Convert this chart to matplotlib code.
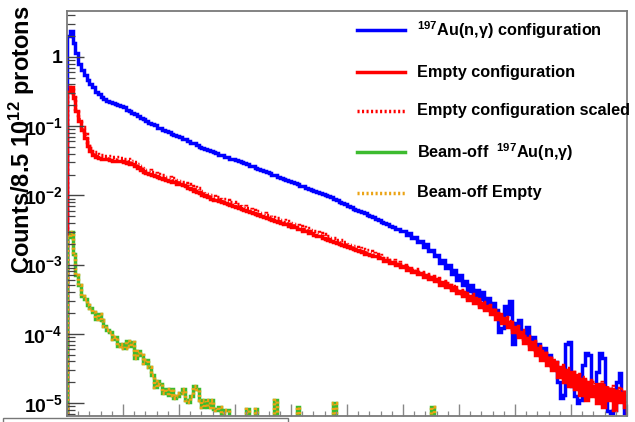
import numpy as np
import matplotlib
matplotlib.use("Agg")
import matplotlib.pyplot as plt
from matplotlib.ticker import LogLocator, NullFormatter, FuncFormatter, MultipleLocator
from matplotlib.lines import Line2D
from matplotlib.patches import Rectangle

plt.rcParams['font.family'] = ['Liberation Sans', 'DejaVu Sans']
plt.rcParams['font.weight'] = 'bold'
plt.rcParams['mathtext.fontset'] = 'custom'
plt.rcParams['mathtext.rm'] = 'Liberation Sans:bold'
plt.rcParams['mathtext.it'] = 'Liberation Sans:bold'
plt.rcParams['mathtext.bf'] = 'Liberation Sans:bold'
plt.rcParams['mathtext.default'] = 'rm'

# ---------------- data (log10 of counts per bin; None = empty bin) ----------------
x_min, x_max, n_bins = 0.0, 10.0, 200

au_log10 = [
    0.30, 0.38, 0.20, 0.05, -0.10, -0.19, -0.26, -0.33, -0.39, -0.44,
    -0.50, -0.54, -0.58, -0.61, -0.63, -0.65, -0.67, -0.68, -0.70, -0.71,
    -0.73, -0.76, -0.78, -0.81, -0.83, -0.86, -0.88, -0.90, -0.92, -0.95,
    -0.97, -0.99, -1.02, -1.03, -1.05, -1.07, -1.09, -1.11, -1.13, -1.14,
    -1.16, -1.18, -1.19, -1.22, -1.24, -1.25, -1.27, -1.30, -1.31, -1.33,
    -1.34, -1.36, -1.37, -1.39, -1.41, -1.42, -1.44, -1.45, -1.47, -1.48,
    -1.49, -1.51, -1.52, -1.53, -1.55, -1.57, -1.58, -1.60, -1.62, -1.63,
    -1.65, -1.66, -1.68, -1.70, -1.71, -1.73, -1.75, -1.76, -1.78, -1.79,
    -1.81, -1.82, -1.84, -1.86, -1.87, -1.89, -1.91, -1.92, -1.93, -1.95,
    -1.96, -1.98, -2.00, -2.01, -2.03, -2.05, -2.07, -2.10, -2.11, -2.13,
    -2.15, -2.17, -2.19, -2.21, -2.23, -2.24, -2.26, -2.28, -2.30, -2.31,
    -2.34, -2.36, -2.38, -2.40, -2.42, -2.44, -2.46, -2.48, -2.49, -2.51,
    -2.52, -2.57, -2.55, -2.62, -2.60, -2.67, -2.66, -2.74, -2.70, -2.80,
    -2.79, -2.88, -2.86, -2.97, -2.93, -3.05, -3.00, -3.13, -3.08, -3.22,
    -3.15, -3.30, -3.24, -3.38, -3.30, -3.45, -3.36, -3.50, -3.40, -3.55,
    -3.48, -3.62, -3.55, -3.66, -3.98, -3.92, -3.60, -3.72, -3.52, -4.15,
    -3.85, -3.80, -3.98, -4.02, -3.90, -4.12, -4.05, -4.20, -4.15, -4.30,
    -4.20, -4.35, -4.30, -4.45, -4.40, -4.70, -4.92, -4.88, -4.15, -4.12,
    -4.75, -4.90, -5.00, -4.95, -4.45, -4.28, -4.30, -4.85, -4.80, -4.55,
    -4.28, -4.35, -4.95, -5.12, -5.15, -5.10, -4.70, -4.57, -4.90, -5.15]

empty_log10 = [
    -0.50, -0.44, -0.60, -0.78, -0.93, -1.06, -1.17, -1.28, -1.36, -1.42,
    -1.45, -1.46, -1.47, -1.48, -1.48, -1.49, -1.50, -1.50, -1.51, -1.51,
    -1.52, -1.53, -1.54, -1.55, -1.57, -1.60, -1.63, -1.66, -1.68, -1.69,
    -1.71, -1.72, -1.74, -1.75, -1.76, -1.78, -1.79, -1.80, -1.81, -1.83,
    -1.84, -1.85, -1.87, -1.89, -1.91, -1.93, -1.95, -1.97, -1.99, -2.01,
    -2.03, -2.05, -2.06, -2.07, -2.08, -2.10, -2.11, -2.12, -2.14, -2.15,
    -2.17, -2.18, -2.20, -2.21, -2.23, -2.24, -2.26, -2.27, -2.29, -2.30,
    -2.31, -2.33, -2.34, -2.36, -2.37, -2.38, -2.40, -2.41, -2.42, -2.44,
    -2.45, -2.46, -2.48, -2.49, -2.51, -2.52, -2.54, -2.55, -2.57, -2.58,
    -2.59, -2.61, -2.63, -2.64, -2.66, -2.67, -2.69, -2.70, -2.72, -2.73,
    -2.75, -2.76, -2.78, -2.79, -2.81, -2.82, -2.84, -2.85, -2.86, -2.88,
    -2.88, -2.91, -2.91, -2.95, -2.93, -2.97, -2.96, -3.01, -2.99, -3.03,
    -3.02, -3.08, -3.05, -3.11, -3.09, -3.14, -3.12, -3.18, -3.15, -3.21,
    -3.18, -3.24, -3.21, -3.29, -3.25, -3.33, -3.29, -3.37, -3.33, -3.41,
    -3.38, -3.46, -3.41, -3.51, -3.45, -3.56, -3.50, -3.61, -3.56, -3.66,
    -3.60, -3.71, -3.65, -3.78, -3.72, -3.84, -3.77, -3.90, -3.83, -3.97,
    -3.90, -4.05, -3.98, -4.13, -4.06, -4.22, -4.12, -4.30, -4.20, -4.38,
    -4.28, -4.45, -4.35, -4.52, -4.40, -4.62, -4.48, -4.70, -4.52, -4.75,
    -4.55, -4.80, -4.60, -4.88, -4.65, -4.95, -4.70, -4.90, -4.75, -5.00,
    -4.72, -5.05, -4.78, -4.95, -4.80, -5.10, -4.82, -4.98, -4.85, -5.05]

empty_scaled_log10 = [
    -0.49, -0.43, -0.58, -0.75, -0.89, -1.01, -1.12, -1.23, -1.31, -1.37,
    -1.40, -1.41, -1.42, -1.43, -1.43, -1.44, -1.45, -1.45, -1.46, -1.46,
    -1.47, -1.48, -1.49, -1.50, -1.52, -1.55, -1.58, -1.61, -1.63, -1.64,
    -1.66, -1.67, -1.69, -1.70, -1.71, -1.73, -1.74, -1.75, -1.76, -1.78,
    -1.79, -1.80, -1.82, -1.84, -1.86, -1.88, -1.90, -1.92, -1.94, -1.96,
    -1.98, -2.00, -2.01, -2.02, -2.03, -2.05, -2.06, -2.07, -2.09, -2.10,
    -2.12, -2.13, -2.15, -2.16, -2.18, -2.19, -2.21, -2.22, -2.24, -2.25,
    -2.26, -2.28, -2.29, -2.31, -2.32, -2.33, -2.35, -2.36, -2.37, -2.39,
    -2.40, -2.41, -2.43, -2.44, -2.46, -2.47, -2.49, -2.50, -2.52, -2.53,
    -2.54, -2.56, -2.58, -2.59, -2.61, -2.62, -2.64, -2.65, -2.67, -2.68,
    -2.70, -2.71, -2.73, -2.74, -2.76, -2.77, -2.79, -2.80, -2.81, -2.83,
    -2.85, -2.86, -2.88, -2.90, -2.91, -2.93, -2.94, -2.97, -2.96, -3.00,
    -3.00, -3.04, -3.03, -3.08, -3.07, -3.11, -3.10, -3.15, -3.13, -3.18,
    -3.16, -3.21, -3.19, -3.26, -3.23, -3.30, -3.27, -3.34, -3.31, -3.38,
    -3.36, -3.43, -3.39, -3.48, -3.43, -3.53, -3.48, -3.58, -3.54, -3.63,
    -3.59, -3.68, -3.63, -3.74, -3.70, -3.80, -3.75, -3.86, -3.81, -3.93,
    -3.88, -4.00, -3.95, -4.08, -4.03, -4.16, -4.10, -4.24, -4.17, -4.32,
    -4.25, -4.38, -4.32, -4.46, -4.38, -4.55, -4.45, -4.62, -4.50, -4.68,
    -4.55, -4.72, -4.58, -4.80, -4.62, -4.85, -4.66, -4.82, -4.70, -4.90,
    -4.70, -4.95, -4.74, -4.88, -4.76, -4.98, -4.78, -4.90, -4.80, -4.95]

N = None
beamoff_au_log10 = [
    -2.60, -2.53, -2.85, -3.15, -3.30, -3.45, -3.50, -3.58, -3.62, -3.68,
    -3.78, -3.72, -3.80, -3.88, -3.95, -3.98, -4.08, -4.05, -4.18, -4.15,
    -4.20, -4.10, -4.18, -4.12, -4.35, -4.25, -4.30, -4.42, -4.38, -4.48,
    -4.60, -4.77, -4.68, -4.72, -4.85, -4.80, -4.88, -4.80, -4.92, -4.90,
    -4.85, -4.80, -4.95, -4.98, -4.90, -4.75, -4.80, -4.95, -5.05, -4.95,
    -5.05, -4.95, -5.08, -5.10, -5.05, N, -5.10, -5.10, N, N,
    N, N, N, N, -5.08, N, N, -5.08, N, N,
    N, N, N, N, -4.95, N, N, N, N, N,
    N, N, -5.05, N, N, N, N, N, N, N,
    N, N, N, N, N, -5.00, N, N, N, N,
    N, N, N, N, N, N, N, N, N, N,
    N, N, N, N, N, N, N, N, N, N,
    N, N, N, N, N, N, N, N, N, N,
    -5.05, N, N, N, N, N, N, N, N, N,
    N, N, N, N, N, N, N, N, N, N,
    N, N, N, N, N, N, N, N, N, N,
    N, N, N, N, N, N, N, N, N, N,
    N, N, N, N, N, N, N, N, N, N,
    N, N, N, N, N, N, N, N, N, N,
    N, N, N, N, N, N, N, N, N, N]

beamoff_empty_log10 = [
    -2.60, -2.53, -2.85, -3.15, -3.30, -3.45, -3.50, -3.58, -3.62, -3.68,
    -3.78, -3.72, -3.80, -3.88, -3.95, -3.98, -4.08, -4.05, -4.18, -4.15,
    -4.20, -4.10, -4.18, -4.12, -4.35, -4.25, -4.30, -4.42, -4.38, -4.48,
    -4.60, -4.77, -4.68, -4.72, -4.85, -4.80, -4.88, -4.80, -4.92, -4.90,
    -4.85, -4.80, -4.95, -4.98, -4.90, -4.75, -4.80, -4.95, -5.05, -4.95,
    -5.05, -4.95, -5.08, -5.10, -5.05, N, -5.10, -5.10, N, N,
    N, N, N, N, -5.08, N, N, -5.08, N, N,
    N, N, N, N, -4.95, N, N, N, N, N,
    N, N, -5.05, N, N, N, N, N, N, N,
    N, N, N, N, N, -5.00, N, N, N, N,
    N, N, N, N, N, N, N, N, N, N,
    N, N, N, N, N, N, N, N, N, N,
    N, N, N, N, N, N, N, N, N, N,
    -5.05, N, N, N, N, N, N, N, N, N,
    N, N, N, N, N, N, N, N, N, N,
    N, N, N, N, N, N, N, N, N, N,
    N, N, N, N, N, N, N, N, N, N,
    N, N, N, N, N, N, N, N, N, N,
    N, N, N, N, N, N, N, N, N, N,
    N, N, N, N, N, N, N, N, N, N]

legend_labels = [r'$^{197}$Au(n,γ) configuration',
                 'Empty configuration',
                 'Empty configuration scaled',
                 r'Beam-off  $^{197}$Au(n,γ)',
                 'Beam-off Empty']
y_label = r'Counts/8.5 10$^{12}$ protons'


def to_counts(arr):
    return np.array([10.0 ** v if v is not None else 0.0 for v in arr])


edges = np.linspace(x_min, x_max, n_bins + 1)

# ---------------- figure ----------------
W, H = 635, 422
fig = plt.figure(figsize=(W / 100, H / 100), dpi=100)
ax = fig.add_axes([67 / W, 1 - 416 / H, 560 / W, 405 / H])
ax.set_yscale('log')

blue = '#0000ff'
red = '#ff0000'
green = '#3dbb2f'
orange = '#eba314'
lw = 2.5
dot = (0, (0.6, 0.7))

series = [
    (au_log10, blue, '-'),
    (empty_log10, red, '-'),
    (empty_scaled_log10, red, dot),
    (beamoff_au_log10, green, '-'),
    (beamoff_empty_log10, orange, dot),
]
for vals, col, ls in series:
    ax.stairs(to_counts(vals), edges, baseline=1e-9, color=col, lw=lw,
              linestyle=ls)

ax.set_xlim(x_min, x_max)
ax.set_ylim(6.5e-6, 4.6)

ax.yaxis.set_major_locator(LogLocator(base=10, numticks=20))
ax.yaxis.set_minor_locator(LogLocator(base=10, subs=np.arange(2, 10), numticks=20))
ax.yaxis.set_minor_formatter(NullFormatter())


def yfmt(v, pos):
    e = int(round(np.log10(v)))
    if e == 0:
        return '1'
    return r'$10^{%d}$' % e


ax.yaxis.set_major_formatter(FuncFormatter(yfmt))
ax.xaxis.set_major_locator(MultipleLocator(1.0))
ax.xaxis.set_minor_locator(MultipleLocator(0.2))

tick_col = '#444444'
ax.tick_params(axis='y', which='major', direction='in', length=12.5, width=1.0,
               color=tick_col, labelsize=14, pad=3, right=False)
ax.tick_params(axis='y', which='minor', direction='in', length=6, width=0.9,
               color=tick_col, right=False)
ax.tick_params(axis='x', which='major', direction='in', length=8.5, width=1.0,
               color='#888888', labelbottom=False, top=False)
ax.tick_params(axis='x', which='minor', direction='in', length=3.8, width=0.9,
               color='#888888', top=False)
for lab in ax.get_yticklabels():
    lab.set_fontweight('bold')

for s in ax.spines.values():
    s.set_color('#7a7a7a')
    s.set_linewidth(1.3)

# y-axis title
fig.text(22 / W, 1 - 140 / H, y_label, rotation=90, ha='center', va='center',
         fontsize=17, fontweight='bold')

# legend (ROOT style, no frame)
leg_y = [30, 72, 111, 152, 193]
for (vals, col, ls), lab, yy in zip(series, legend_labels, leg_y):
    fig.add_artist(Line2D([357 / W, 405 / W], [1 - yy / H] * 2, color=col, lw=lw,
                          linestyle=ls, transform=fig.transFigure))
    fig.text(417 / W, 1 - yy / H, lab, ha='left', va='center', fontsize=11.7,
             fontweight='bold')

# partially visible box below the frame
fig.add_artist(Rectangle((3 / W, -0.05), 285 / W, 0.05 + 4 / H, facecolor='white',
                         edgecolor='#777777', lw=1.0, transform=fig.transFigure,
                         clip_on=False, zorder=10))

fig.savefig('out.png', dpi=100)
